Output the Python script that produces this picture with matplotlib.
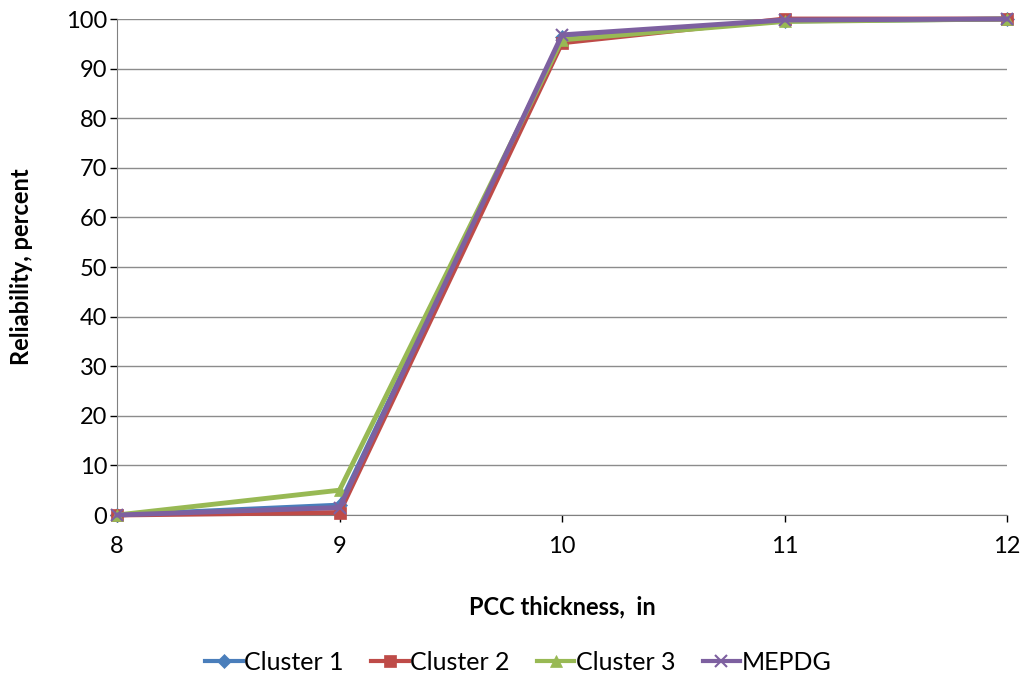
import matplotlib
matplotlib.use("Agg")
import matplotlib.pyplot as plt

thickness = [8, 9, 10, 11, 12]
cluster1 = [0.0, 2.0, 96.3, 99.6, 100.0]
cluster2 = [0.0, 0.5, 95.2, 100.0, 100.0]
cluster3 = [0.0, 5.0, 95.8, 99.5, 100.0]
mepdg = [0.0, 1.5, 96.8, 99.8, 100.0]

plt.rcParams['font.family'] = ['Lato', 'DejaVu Sans']

fig = plt.figure(figsize=(10.26, 6.79), dpi=100)
ax = fig.add_axes([117/1026, 1-515/679, (1007-117)/1026, (515-19)/679])

series = [
    ("Cluster 1", cluster1, "#4A7EBB", "D", 7),
    ("Cluster 2", cluster2, "#BE4B48", "s", 8),
    ("Cluster 3", cluster3, "#98B954", "^", 8),
    ("MEPDG", mepdg, "#7D60A0", "x", 8),
]
for name, vals, col, mk, ms in series:
    ax.plot(thickness, vals, color=col, lw=3.5, marker=mk, markersize=ms,
            markeredgewidth=1.5 if mk == "x" else 0.5, markeredgecolor=col,
            label=name, clip_on=False, zorder=3)

ax.set_xlim(8, 12)
ax.set_ylim(0, 100)
ax.set_xticks(thickness)
ax.set_yticks(range(0, 101, 10))
ax.tick_params(axis='both', labelsize=17, direction='out', length=5, width=1, colors='black')
ax.tick_params(axis='x', pad=10)
ax.tick_params(axis='y', pad=2)
ax.grid(axis='y', color='#8C8C8C', lw=1)
ax.set_axisbelow(True)
for s in ['top', 'right']:
    ax.spines[s].set_visible(False)
ax.spines['left'].set_color('#808080')
ax.spines['bottom'].set_color('#808080')

ax.set_xlabel("PCC thickness,  in", fontsize=17, fontweight='bold', labelpad=28)
ax.set_ylabel("Reliability, percent", fontsize=17, fontweight='bold', labelpad=24)

leg = fig.legend(loc='center', bbox_to_anchor=(0.505, 1-662/679), ncol=4, frameon=False,
                 fontsize=18, handlelength=1.5, handletextpad=0.05, columnspacing=1.1)
for h in leg.get_lines():
    h.set_linewidth(3)

fig.savefig("out.png", dpi=100)
